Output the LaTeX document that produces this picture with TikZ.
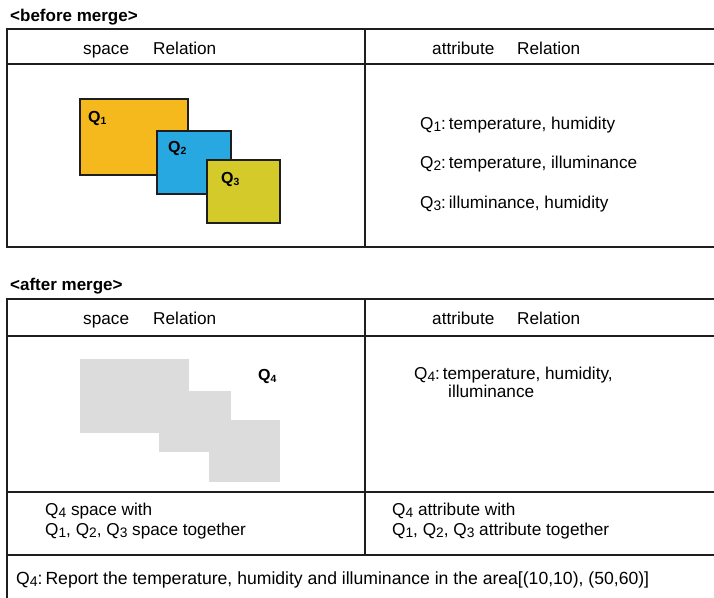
\documentclass[tikz,border=0pt]{standalone}
\usepackage{fontspec}
\setmainfont{Liberation Sans}
\definecolor{linec}{RGB}{30,30,30}
\definecolor{q1c}{RGB}{245,185,30}
\definecolor{q2c}{RGB}{40,168,224}
\definecolor{q3c}{RGB}{212,203,42}
\definecolor{mergec}{RGB}{220,220,220}
\newcommand{\sbq}[1]{\raisebox{-0.3ex}{\scalebox{0.8}{#1}}}
\newcommand{\bq}[1]{Q\raisebox{-0.35ex}{\scalebox{0.65}{#1}}}
\begin{document}
\begin{tikzpicture}[x=1pt,y=-1pt,
  tline/.style={line width=1.6pt,draw=linec},
  txt/.style={anchor=base west,inner sep=0pt,font=\fontsize{17.2}{19}\selectfont},
  ttl/.style={anchor=base west,inner sep=0pt,font=\fontsize{17}{19}\selectfont\bfseries},
  qlab/.style={anchor=base west,inner sep=0pt,font=\fontsize{16}{18}\selectfont\bfseries},
  qbox/.style={line width=1.5pt,draw=linec},
  mergebox/.style={fill=mergec,draw=none}]
\useasboundingbox (0,0) rectangle (714,597);
% ---------- before merge ----------
\node[ttl] (t1) at (10,21) {<before merge>};
\draw[tline] (716,29) -- (7,29) -- (7,247) -- (716,247);
\draw[tline] (7,64) -- (716,64);
\draw[tline] (365,29) -- (365,247);
\node[txt] (h1a) at (83,54) {space};
\node[txt] (h1b) at (153,54) {Relation};
\node[txt] (h2a) at (432,54) {attribute};
\node[txt] (h2b) at (517,54) {Relation};
\filldraw[qbox,fill=q1c] (80,99) rectangle (188,175);
\filldraw[qbox,fill=q2c] (157,131) rectangle (231,194);
\filldraw[qbox,fill=q3c] (207,160) rectangle (280,223);
\node[qlab] (q1) at (88,122) {\bq{1}};
\node[qlab] (q2) at (168,152) {\bq{2}};
\node[qlab] (q3) at (221,183) {\bq{3}};
\node[txt] (a1) at (420,129) {Q\sbq{1}:\,temperature, humidity};
\node[txt] (a2) at (420,168) {Q\sbq{2}:\,temperature, illuminance};
\node[txt] (a3) at (420,208) {Q\sbq{3}:\,illuminance, humidity};
% ---------- after merge ----------
\node[ttl] (t2) at (10,290) {<after merge>};
\draw[tline] (716,299) -- (7,299) -- (7,599);
\draw[tline] (7,336) -- (716,336);
\draw[tline] (7,492) -- (716,492);
\draw[tline] (7,555) -- (716,555);
\draw[tline] (365,299) -- (365,555);
\node[txt] (h3a) at (83,324) {space};
\node[txt] (h3b) at (153,324) {Relation};
\node[txt] (h4a) at (432,324) {attribute};
\node[txt] (h4b) at (517,324) {Relation};
\fill[mergebox] (80,359) rectangle (189,433);
\fill[mergebox] (159,391) rectangle (231,452);
\fill[mergebox] (209,420) rectangle (280,482);
\node[qlab] (q4) at (258,380) {\bq{4}};
\node[txt] (a4) at (414,379) {Q\sbq{4}:\,temperature, humidity,};
\node[txt] (a4b) at (448,397) {illuminance};
\node[txt] (s1) at (45,515) {Q\sbq{4} space with};
\node[txt] (s2) at (45,535) {Q\sbq{1}, Q\sbq{2}, Q\sbq{3} space together};
\node[txt] (r1) at (392,515) {Q\sbq{4} attribute with};
\node[txt] (r2) at (392,535) {Q\sbq{1}, Q\sbq{2}, Q\sbq{3} attribute together};
\node[txt,font=\fontsize{17.6}{19}\selectfont] (rep) at (16,584) {Q\sbq{4}:\,Report the temperature, humidity and illuminance in the area[(10,10), (50,60)]};
\end{tikzpicture}
\end{document}
